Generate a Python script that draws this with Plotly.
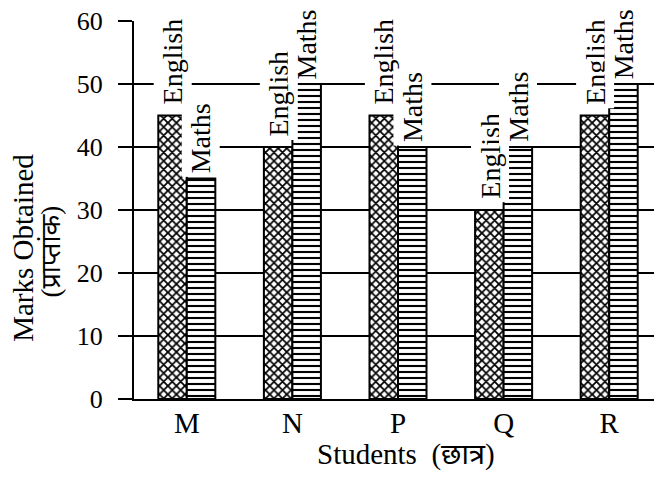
import plotly.graph_objects as go

students = ["M", "N", "P", "Q", "R"]
english = [45, 40, 45, 30, 45]
maths = [35, 50, 40, 40, 50]
y_ticks = [0, 10, 20, 30, 40, 50, 60]

SERIF = "Liberation Serif, Times New Roman, serif"
HINDI = "Liberation Serif, Noto Sans Devanagari, Lohit Devanagari, FreeSerif, sans-serif"

fig = go.Figure()
fig.add_trace(go.Bar(
    x=students, y=english, name="English",
    marker=dict(color="white", line=dict(color="black", width=2),
                pattern=dict(shape="x", fgcolor="black", bgcolor="white",
                             size=6, solidity=0.5, fillmode="replace")),
))
fig.add_trace(go.Bar(
    x=students, y=maths, name="Maths",
    marker=dict(color="white", line=dict(color="black", width=2),
                pattern=dict(shape="-", fgcolor="black", bgcolor="white",
                             size=6, solidity=0.35, fillmode="replace")),
))

bar_px = 28
for i, s in enumerate(students):
    for val, label, shift, lift in ((english[i], "English", -bar_px / 2, 7),
                                    (maths[i], "Maths", bar_px / 2, 1)):
        fig.add_annotation(
            x=s, y=val, xref="x", yref="y", text=label, textangle=-90,
            showarrow=False, xanchor="center", yanchor="bottom", xshift=shift, yshift=lift,
            font=dict(family=SERIF, size=28, color="black"),
            bgcolor="white", borderpad=3,
        )

# axis titles
fig.add_annotation(
    x=0, y=0.40, xref="paper", yref="paper", xshift=-111, text="Marks Obtained",
    textangle=-90, showarrow=False, xanchor="center", yanchor="middle",
    font=dict(family=SERIF, size=29, color="black"),
)
fig.add_annotation(
    x=0, y=0.39, xref="paper", yref="paper", xshift=-83, text="(प्राप्तांक)",
    textangle=-90, showarrow=False, xanchor="center", yanchor="middle",
    font=dict(family=HINDI, size=27, color="black"),
)
fig.add_annotation(
    x=0.5, y=0, xref="paper", yref="paper", xshift=8, yshift=-55,
    text="Students  (छात्र)", showarrow=False, xanchor="center", yanchor="middle",
    font=dict(family=HINDI, size=29, color="black"),
)

fig.update_layout(
    width=662, height=480,
    margin=dict(l=126, r=8, t=13, b=89, autoexpand=False),
    paper_bgcolor="white", plot_bgcolor="white",
    barmode="group", bargap=0.46, bargroupgap=0,
    showlegend=False,
    font=dict(family=SERIF, color="black"),
)
fig.update_xaxes(
    automargin=False,
    showline=True, linecolor="black", linewidth=2, showgrid=False,
    ticks="", tickfont=dict(family=SERIF, size=29, color="black"),
    ticklabelstandoff=-3,
)
fig.update_yaxes(
    automargin=False,
    range=[0, 60.02], tickvals=y_ticks, showline=True, linecolor="black", linewidth=2,
    showgrid=True, gridcolor="black", gridwidth=2,
    ticks="outside", ticklen=14, tickwidth=2, tickcolor="black",
    ticklabelstandoff=10, ticklabeloverflow="allow",
    tickfont=dict(family=SERIF, size=26, color="black"),
    zeroline=False,
)

fig.write_html("out.html")
